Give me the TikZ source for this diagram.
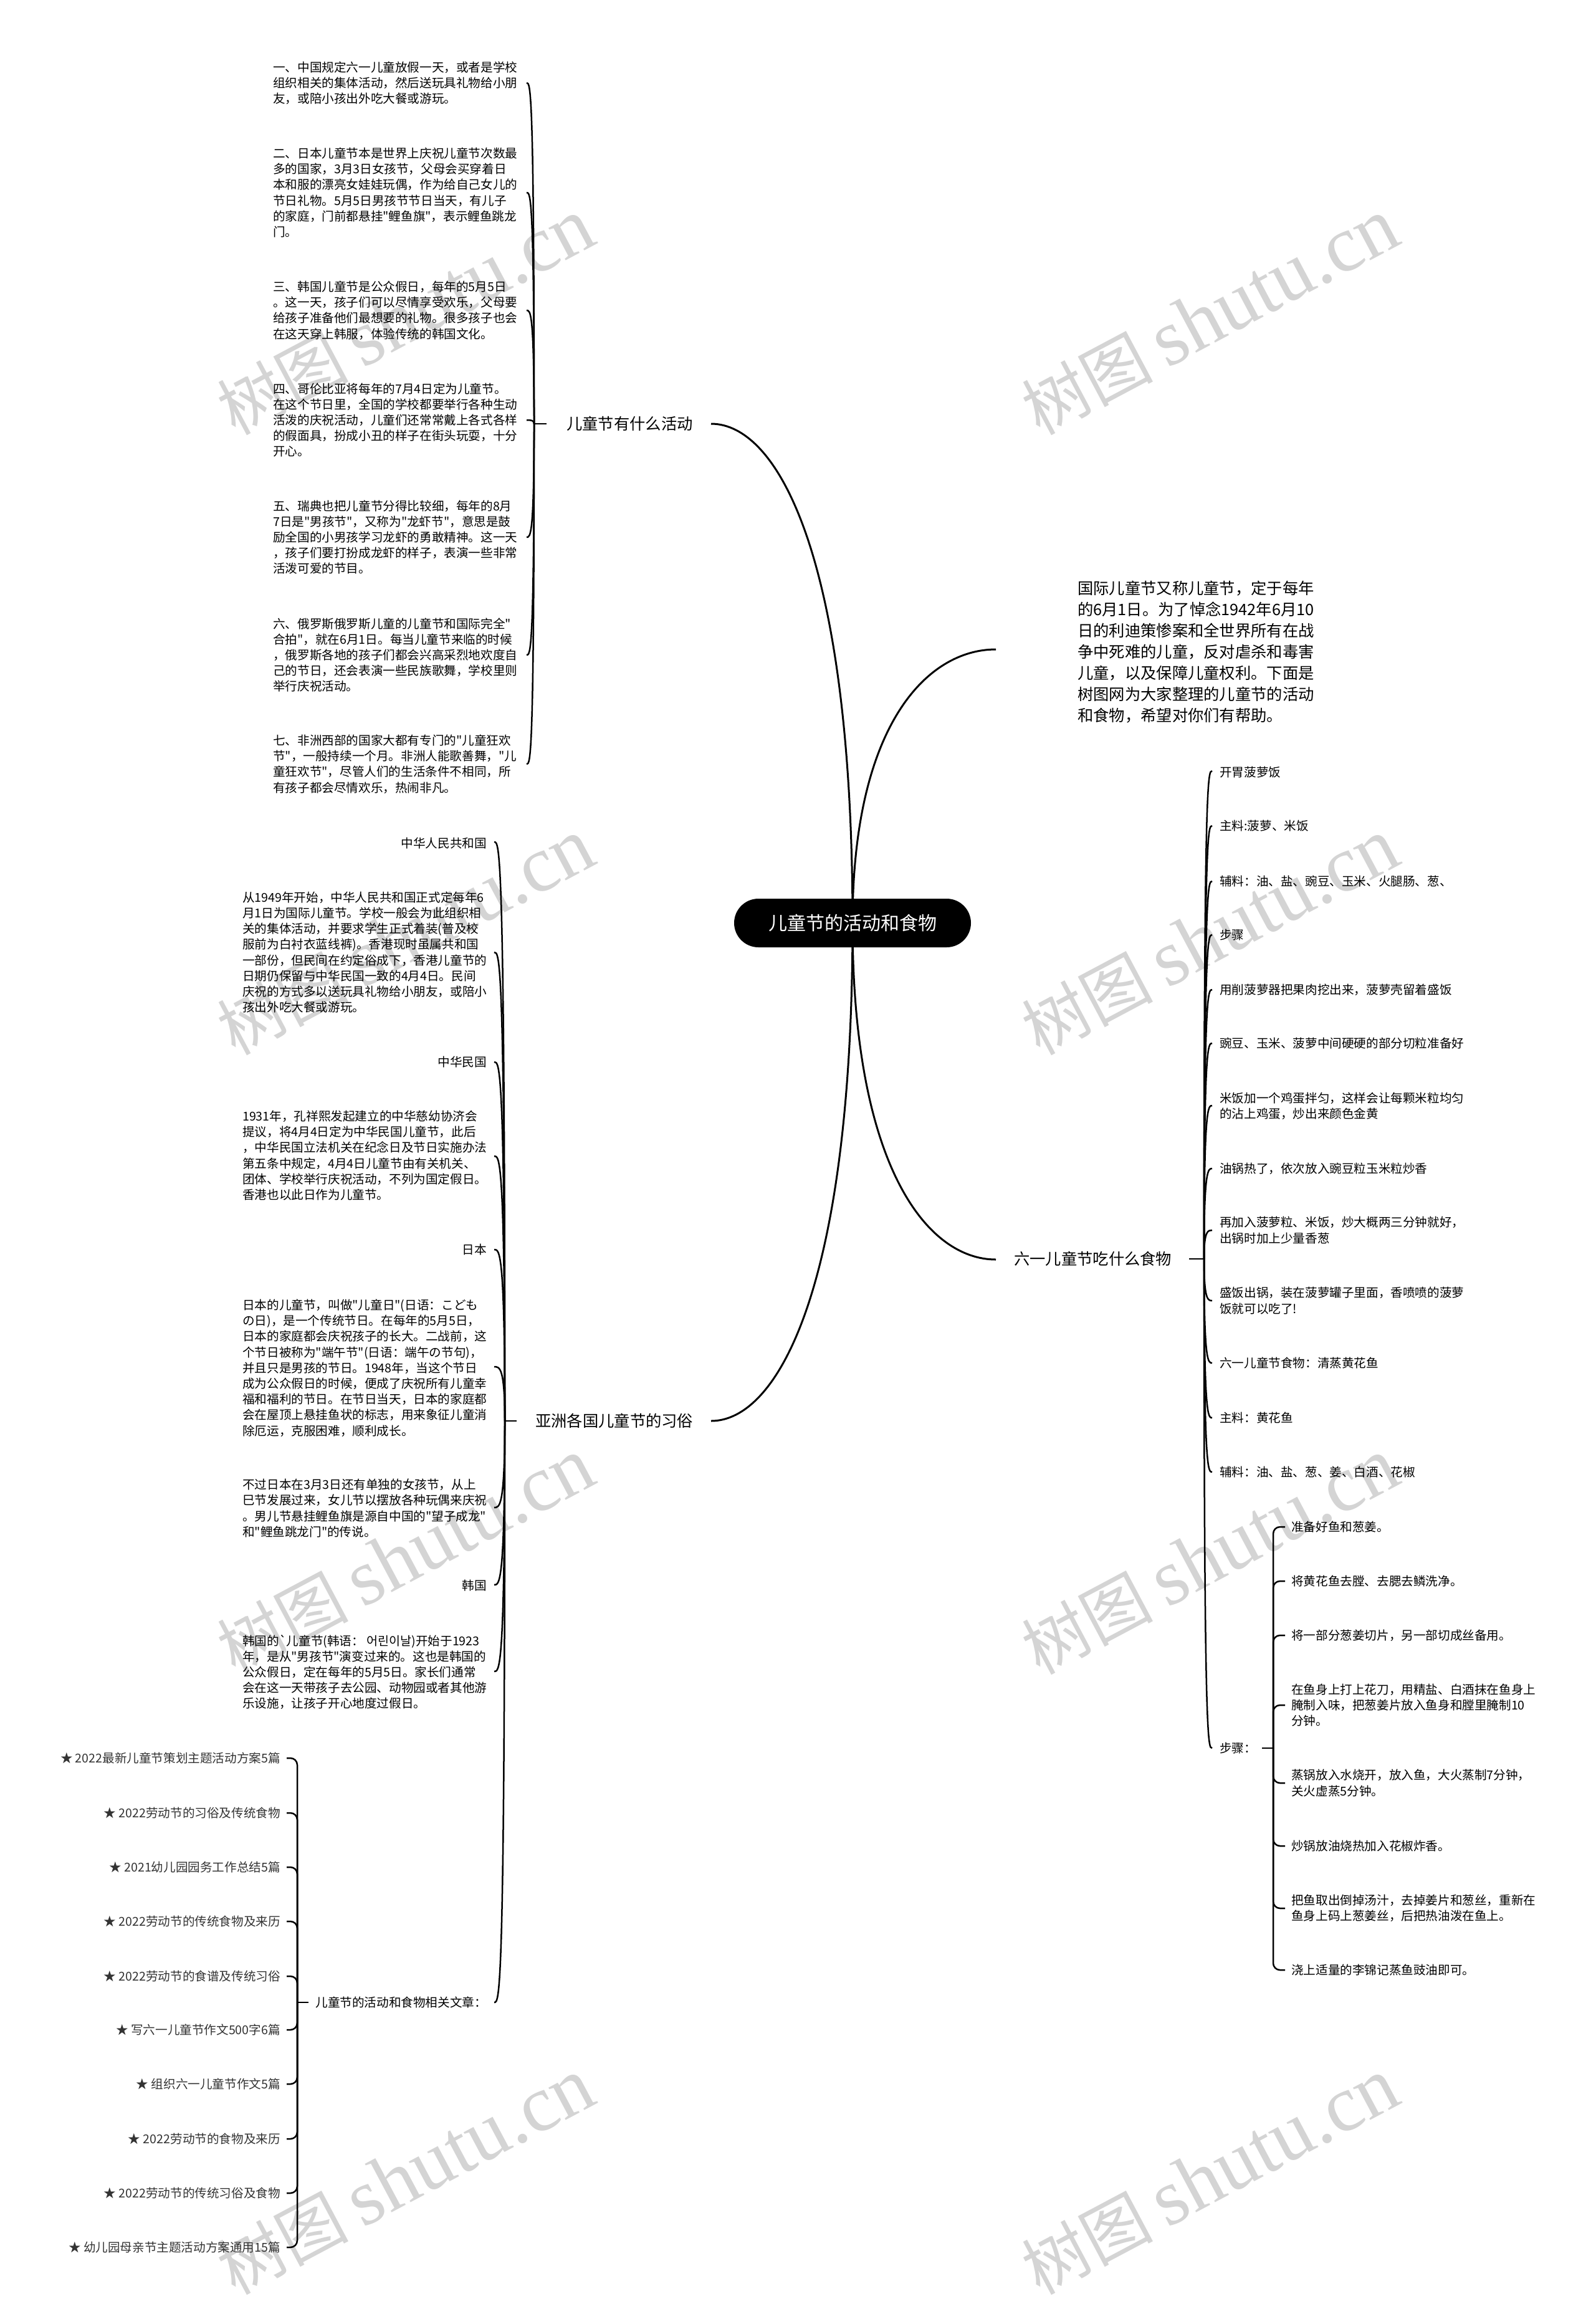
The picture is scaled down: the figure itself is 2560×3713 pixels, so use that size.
\documentclass[tikz,border=0pt]{standalone}
\usepackage{fontspec}
\newfontfamily\cjk{Noto Sans CJK SC}
\newfontfamily\wmlat{Liberation Serif}
\usetikzlibrary{calc}
\newcommand\curvykid[2]{\draw[sline] (#1) .. controls (#1 |- #2) and ($(#2)!0.5!(#1 |- #2)$) .. (#2);}
\newcommand\bracekid[2]{\draw[sline, rounded corners=11pt] (#1) -- (#1 |- #2) -- (#2);}
\begin{document}
\begin{tikzpicture}[x=1pt,y=-1pt,
  txt/.style={font=\cjk\fontsize{19.6}{25.2}\selectfont, inner sep=0pt, align=left},
  arttxt/.style={txt, text=black!80},
  brlabel/.style={font=\cjk\fontsize{25.3}{34}\selectfont, inner sep=0pt, align=left},
  mline/.style={line width=3pt, black},
  sline/.style={line width=2.5pt, black},
  wm/.style={rotate=28, text=black!17, inner sep=0pt, font=\cjk\fontsize{105}{110}\selectfont}]
\useasboundingbox (0,0) rectangle (2560,3713);
\fill[white] (0,0) rectangle (2560,3713);
% watermarks
\foreach \wx/\wy [count=\i] in {651/509,1942/509,651/1504,1942/1504,651/2498,1942/2498,651/3493,1942/3493}{
  \node[wm] (wm\i) at (\wx,\wy) {树图\hspace{22pt}{\wmlat\fontsize{128}{130}\selectfont shutu.cn}};
}
% main curves
\coordinate (c0) at (1368,1481);
\coordinate (e1) at (1141,680);
\coordinate (e2) at (1141,2280);
\coordinate (e3) at (1598,1042);
\coordinate (e4) at (1598,2021);
\draw[mline] (c0) .. controls (1368,900) and (1250,680) .. (e1);
\draw[mline] (c0) .. controls (1368,2060) and (1250,2280) .. (e2);
\draw[mline] (c0) .. controls (1368,1163) and (1488,1042) .. (e3);
\draw[mline] (c0) .. controls (1368,1872) and (1488,2021) .. (e4);
\node[fill=black, text=white, rounded corners=39pt, minimum width=380pt, minimum height=78pt, inner sep=0pt, font=\cjk\fontsize{30}{36}\selectfont] (root) at (c0) {儿童节的活动和食物};

% ---------- branch 1 ----------
\node[brlabel, anchor=west] (b1) at (909,680) {儿童节有什么活动};
\coordinate (j1) at (857,680);
\coordinate (k1) at (877,680);
\draw[sline] (k1) -- (j1);
\node[txt, anchor=west] (p1) at (438,133) {一、中国规定六一儿童放假一天，或者是学校\\组织相关的集体活动，然后送玩具礼物给小朋\\友，或陪小孩出外吃大餐或游玩。};
\node[txt, anchor=west] (p2) at (438,309) {二、日本儿童节本是世界上庆祝儿童节次数最\\多的国家，3月3日女孩节，父母会买穿着日\\本和服的漂亮女娃娃玩偶，作为给自己女儿的\\节日礼物。5月5日男孩节节日当天，有儿子\\的家庭，门前都悬挂"鲤鱼旗"，表示鲤鱼跳龙\\门。};
\node[txt, anchor=west] (p3) at (438,498) {三、韩国儿童节是公众假日，每年的5月5日\\。这一天，孩子们可以尽情享受欢乐，父母要\\给孩子准备他们最想要的礼物。很多孩子也会\\在这天穿上韩服，体验传统的韩国文化。};
\node[txt, anchor=west] (p4) at (438,674) {四、哥伦比亚将每年的7月4日定为儿童节。\\在这个节日里，全国的学校都要举行各种生动\\活泼的庆祝活动，儿童们还常常戴上各式各样\\的假面具，扮成小丑的样子在街头玩耍，十分\\开心。};
\node[txt, anchor=west] (p5) at (438,862) {五、瑞典也把儿童节分得比较细，每年的8月\\7日是"男孩节"，又称为"龙虾节"，意思是鼓\\励全国的小男孩学习龙虾的勇敢精神。这一天\\，孩子们要打扮成龙虾的样子，表演一些非常\\活泼可爱的节目。};
\node[txt, anchor=west] (p6) at (438,1051) {六、俄罗斯俄罗斯儿童的儿童节和国际完全"\\合拍"，就在6月1日。每当儿童节来临的时候\\，俄罗斯各地的孩子们都会兴高采烈地欢度自\\己的节日，还会表演一些民族歌舞，学校里则\\举行庆祝活动。};
\node[txt, anchor=west] (p7) at (438,1226) {七、非洲西部的国家大都有专门的"儿童狂欢\\节"，一般持续一个月。非洲人能歌善舞，"儿\\童狂欢节"，尽管人们的生活条件不相同，所\\有孩子都会尽情欢乐，热闹非凡。};
\foreach \ty [count=\i] in {133,309,498,674,862,1051,1226}{
  \coordinate (tp\i) at (845,\ty);
  \curvykid{j1}{tp\i}
}

% ---------- branch 2 ----------
\node[brlabel, anchor=west] (b2) at (859,2280) {亚洲各国儿童节的习俗};
\coordinate (j2) at (810,2280);
\coordinate (k2) at (829,2280);
\draw[sline] (k2) -- (j2);
\node[txt, anchor=east] (a1) at (781,1353) {中华人民共和国};
\node[txt, anchor=west] (a2) at (389,1528) {从1949年开始，中华人民共和国正式定每年6\\月1日为国际儿童节。学校一般会为此组织相\\关的集体活动，并要求学生正式着装(普及校\\服前为白衬衣蓝线裤)。香港现时虽属共和国\\一部份，但民间在约定俗成下，香港儿童节的\\日期仍保留与中华民国一致的4月4日。民间\\庆祝的方式多以送玩具礼物给小朋友，或陪小\\孩出外吃大餐或游玩。};
\node[txt, anchor=east] (a3) at (781,1704) {中华民国};
\node[txt, anchor=west] (a4) at (389,1854) {1931年，孔祥熙发起建立的中华慈幼协济会\\提议，将4月4日定为中华民国儿童节，此后\\，中华民国立法机关在纪念日及节日实施办法\\第五条中规定，4月4日儿童节由有关机关、\\团体、学校举行庆祝活动，不列为国定假日。\\香港也以此日作为儿童节。};
\node[txt, anchor=east] (a5) at (781,2005) {日本};
\node[txt, anchor=west] (a6) at (389,2195) {日本的儿童节，叫做"儿童日"(日语：こども\\の日)，是一个传统节日。在每年的5月5日，\\日本的家庭都会庆祝孩子的长大。二战前，这\\个节日被称为"端午节"(日语：端午の节句)，\\并且只是男孩的节日。1948年，当这个节日\\成为公众假日的时候，便成了庆祝所有儿童幸\\福和福利的节日。在节日当天，日本的家庭都\\会在屋顶上悬挂鱼状的标志，用来象征儿童消\\除厄运，克服困难，顺利成长。};
\node[txt, anchor=west] (a7) at (389,2420) {不过日本在3月3日还有单独的女孩节，从上\\巳节发展过来，女儿节以摆放各种玩偶来庆祝\\。男儿节悬挂鲤鱼旗是源自中国的"望子成龙"\\和"鲤鱼跳龙门"的传说。};
\node[txt, anchor=east] (a8) at (781,2544) {韩国};
\node[txt, anchor=west] (a9) at (389,2683) {韩国的`儿童节(韩语： 어린이날)开始于1923\\年，是从"男孩节"演变过来的。这也是韩国的\\公众假日，定在每年的5月5日。家长们通常\\会在这一天带孩子去公园、动物园或者其他游\\乐设施，让孩子开心地度过假日。};
\node[txt, anchor=east] (a10) at (781,3213) {儿童节的活动和食物相关文章：};
\foreach \ty [count=\i] in {1351,1528,1704,1855,2005,2193,2419,2543,2682,3213}{
  \coordinate (ta\i) at (793,\ty);
  \curvykid{j2}{ta\i}
}

% ---------- articles ----------
\coordinate (j3) at (477,3213);
\coordinate (k3) at (495,3213);
\draw[sline] (k3) -- (j3);
\node[arttxt, anchor=east] (r1) at (450,2821) {★ 2022最新儿童节策划主题活动方案5篇};
\node[arttxt, anchor=east] (r2) at (450,2909) {★ 2022劳动节的习俗及传统食物};
\node[arttxt, anchor=east] (r3) at (450,2996) {★ 2021幼儿园园务工作总结5篇};
\node[arttxt, anchor=east] (r4) at (450,3083) {★ 2022劳动节的传统食物及来历};
\node[arttxt, anchor=east] (r5) at (450,3171) {★ 2022劳动节的食谱及传统习俗};
\node[arttxt, anchor=east] (r6) at (450,3257) {★ 写六一儿童节作文500字6篇};
\node[arttxt, anchor=east] (r7) at (450,3344) {★ 组织六一儿童节作文5篇};
\node[arttxt, anchor=east] (r8) at (450,3432) {★ 2022劳动节的食物及来历};
\node[arttxt, anchor=east] (r9) at (450,3519) {★ 2022劳动节的传统习俗及食物};
\node[arttxt, anchor=east] (r10) at (450,3606) {★ 幼儿园母亲节主题活动方案通用15篇};
\foreach \ty [count=\i] in {2821,2909,2996,3083,3171,3257,3344,3432,3519,3606}{
  \coordinate (tr\i) at (460,\ty);
  \bracekid{j3}{tr\i}
}

% ---------- intro ----------
\node[brlabel, anchor=west] (intro) at (1729,1046) {国际儿童节又称儿童节，定于每年\\的6月1日。为了悼念1942年6月10\\日的利迪策惨案和全世界所有在战\\争中死难的儿童，反对虐杀和毒害\\儿童，以及保障儿童权利。下面是\\树图网为大家整理的儿童节的活动\\和食物，希望对你们有帮助。};

% ---------- food branch ----------
\node[brlabel, anchor=west] (b4) at (1627,2020) {六一儿童节吃什么食物};
\coordinate (j4) at (1932,2020);
\coordinate (k4) at (1908,2020);
\draw[sline] (k4) -- (j4);
\node[txt, anchor=west] (f1) at (1957,1239) {开胃菠萝饭};
\node[txt, anchor=west] (f2) at (1957,1325) {主料:菠萝、米饭};
\node[txt, anchor=west] (f3) at (1957,1414) {辅料：油、盐、豌豆、玉米、火腿肠、葱、};
\node[txt, anchor=west] (f4) at (1957,1500) {步骤};
\node[txt, anchor=west] (f5) at (1957,1588) {用削菠萝器把果肉挖出来，菠萝壳留着盛饭};
\node[txt, anchor=west] (f6) at (1957,1674) {豌豆、玉米、菠萝中间硬硬的部分切粒准备好};
\node[txt, anchor=west] (f7) at (1957,1775) {米饭加一个鸡蛋拌匀，这样会让每颗米粒均匀\\的沾上鸡蛋，炒出来颜色金黄};
\node[txt, anchor=west] (f8) at (1957,1875) {油锅热了，依次放入豌豆粒玉米粒炒香};
\node[txt, anchor=west] (f9) at (1957,1974) {再加入菠萝粒、米饭，炒大概两三分钟就好，\\出锅时加上少量香葱};
\node[txt, anchor=west] (f10) at (1957,2087) {盛饭出锅，装在菠萝罐子里面，香喷喷的菠萝\\饭就可以吃了!};
\node[txt, anchor=west] (f11) at (1957,2187) {六一儿童节食物：清蒸黄花鱼};
\node[txt, anchor=west] (f12) at (1957,2275) {主料：黄花鱼};
\node[txt, anchor=west] (f13) at (1957,2362) {辅料：油、盐、葱、姜、白酒、花椒};
\node[txt, anchor=west] (f14) at (1957,2805) {步骤：};
\foreach \ty [count=\i] in {1237,1325,1414,1500,1588,1674,1774,1875,1974,2087,2187,2275,2362,2805}{
  \coordinate (tf\i) at (1945,\ty);
  \curvykid{j4}{tf\i}
}

% ---------- fish steps ----------
\coordinate (j5) at (2043,2805);
\coordinate (k5) at (2025,2805);
\draw[sline] (k5) -- (j5);
\node[txt, anchor=west] (s1) at (2072,2450) {准备好鱼和葱姜。};
\node[txt, anchor=west] (s2) at (2072,2537) {将黄花鱼去膛、去腮去鳞洗净。};
\node[txt, anchor=west] (s3) at (2072,2624) {将一部分葱姜切片，另一部切成丝备用。};
\node[txt, anchor=west] (s4) at (2072,2736) {在鱼身上打上花刀，用精盐、白酒抹在鱼身上\\腌制入味，把葱姜片放入鱼身和膛里腌制10\\分钟。};
\node[txt, anchor=west] (s5) at (2072,2861) {蒸锅放入水烧开，放入鱼，大火蒸制7分钟，\\关火虚蒸5分钟。};
\node[txt, anchor=west] (s6) at (2072,2962) {炒锅放油烧热加入花椒炸香。};
\node[txt, anchor=west] (s7) at (2072,3062) {把鱼取出倒掉汤汁，去掉姜片和葱丝，重新在\\鱼身上码上葱姜丝，后把热油泼在鱼上。};
\node[txt, anchor=west] (s8) at (2072,3161) {浇上适量的李锦记蒸鱼豉油即可。};
\foreach \ty [count=\i] in {2450,2537,2624,2736,2861,2962,3062,3161}{
  \coordinate (ts\i) at (2062,\ty);
  \bracekid{j5}{ts\i}
}
\end{tikzpicture}
\end{document}
